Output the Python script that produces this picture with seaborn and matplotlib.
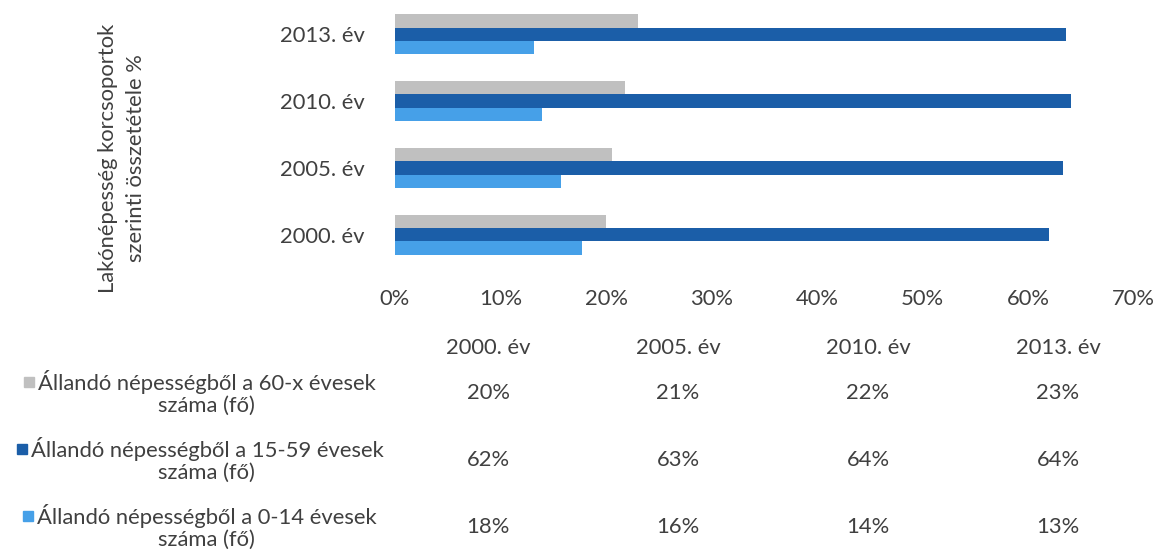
import matplotlib
matplotlib.use("Agg")
import matplotlib.pyplot as plt
import seaborn as sns
import pandas as pd

# Data (percent of resident population)
years = ["2000. év", "2005. év", "2010. év", "2013. év"]
age_60x = [20.0, 20.6, 21.8, 23.0]
age_15_59 = [62.0, 63.3, 64.1, 63.6]
age_0_14 = [17.7, 15.7, 13.9, 13.2]
groups = [
    "Állandó népességből a 60-x évesek\nszáma (fő)",
    "Állandó népességből a 15-59 évesek\nszáma (fő)",
    "Állandó népességből a 0-14 évesek\nszáma (fő)",
]
colors = ["#c0c0c0", "#1b5ea8", "#46a0e8"]
x_ticks = [0, 10, 20, 30, 40, 50, 60, 70]

series = [age_60x, age_15_59, age_0_14]
df = pd.DataFrame({
    "year": [y for s in series for y in years],
    "group": [g for g, s in zip(groups, series) for _ in s],
    "value": [v for s in series for v in s],
})

sns.set_theme(style="white")
plt.rcParams["font.family"] = ["Lato", "DejaVu Sans"]
text_col = "#404040"
fs = 15.8

W, H = 1153, 556
fig = plt.figure(figsize=(W / 100, H / 100), dpi=100)
ax = fig.add_axes([395 / W, 1 - 268 / H, (1133.5 - 395) / W, 267 / H])

sns.barplot(data=df, x="value", y="year", hue="group", orient="h",
            order=years[::-1], hue_order=groups, palette=colors,
            width=0.6, saturation=1, linewidth=0, legend=False, ax=ax)

ax.set_xlim(0, 70)
ax.set_xticks(x_ticks)
ax.set_xticklabels([f"{t}%" for t in x_ticks])
ax.set_xlabel("")
ax.set_ylabel("")
sns.despine(ax=ax, left=True, bottom=True)
ax.tick_params(axis="x", length=0, pad=15, labelsize=fs, labelcolor=text_col)
ax.tick_params(axis="y", length=0, pad=22, labelsize=fs, labelcolor=text_col)
ax.grid(False)

fig.text(122 / W, 1 - 158 / H, "Lakónépesség korcsoportok\nszerinti összetétele %",
         rotation=90, ha="center", va="center", multialignment="center",
         fontsize=15.8, color=text_col, linespacing=1.45)

# data table under the chart
col_w = (W - 393) / len(years)
def fx(px):
    return px / W
def fy(py):
    return 1 - py / H

for i, yr in enumerate(years):
    fig.text(fx(393 + col_w * (i + 0.5)), fy(348), yr, ha="center", va="center",
             fontsize=fs, color=text_col)

row_y = [393, 460, 527]
renderer = fig.canvas.get_renderer()
for r, (g, s, c) in enumerate(zip(groups, series, colors)):
    first, second = g.split("\n")
    t = fig.text(fx(207), fy(row_y[r] - 11), first, ha="center", va="center",
                 fontsize=fs, color=text_col)
    fig.text(fx(206), fy(row_y[r] + 13), second, ha="center", va="center",
             fontsize=fs, color=text_col)
    bb = t.get_window_extent(renderer)
    fig.patches.append(plt.Rectangle((bb.x0 / W - 14 / W, fy(row_y[r] - 11) - 5 / H),
                                     10 / W, 10 / H, color=c, transform=fig.transFigure))
    for i, v in enumerate(s):
        fig.text(fx(393 + col_w * (i + 0.5)), fy(row_y[r]), f"{v:.0f}%",
                 ha="center", va="center", fontsize=fs, color=text_col)

fig.savefig("out.png", dpi=100)
